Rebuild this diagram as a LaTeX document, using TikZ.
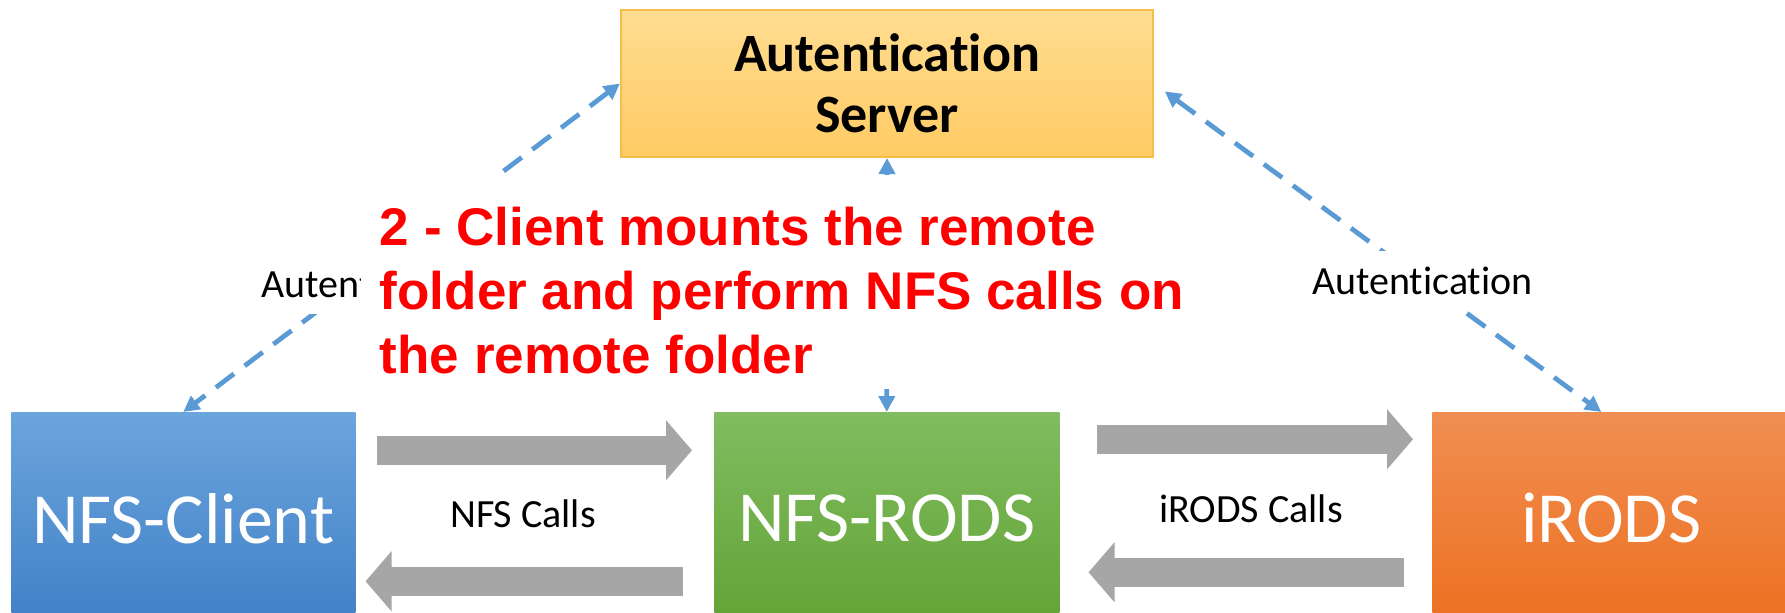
\documentclass[tikz,border=0pt]{standalone}
\usepackage{fontspec}
\setmainfont{Carlito}[Ligatures=NoCommon]
\newfontfamily\notefont{Liberation Sans}
\usetikzlibrary{arrows.meta,positioning}
\definecolor{authtop}{RGB}{255,221,145}
\definecolor{authbot}{RGB}{255,203,100}
\definecolor{authline}{RGB}{244,190,72}
\definecolor{clienttop}{RGB}{108,165,221}
\definecolor{clientbot}{RGB}{64,128,198}
\definecolor{rodstop}{RGB}{129,188,96}
\definecolor{rodsbot}{RGB}{98,163,54}
\definecolor{irodstop}{RGB}{240,142,82}
\definecolor{irodsbot}{RGB}{237,112,32}
\definecolor{callgray}{RGB}{166,166,166}
\definecolor{linkblue}{RGB}{91,155,213}
\definecolor{notered}{RGB}{255,0,0}
\tikzset{
  block/.style={anchor=north west, inner sep=0pt, text=white, font=\fontsize{54pt}{60pt}\selectfont},
  callarrow/.style={draw=callgray, line width=21.75pt, -{Triangle[length=19.5pt,width=44pt]}},
  callstext/.style={inner sep=0pt, font=\fontsize{30pt}{36pt}\selectfont},
  authlink/.style={draw=linkblue, line width=3.6pt, dash pattern=on 17pt off 10pt,
    {Triangle[length=12pt,width=12pt]}-{Triangle[length=12pt,width=12pt]}},
  authlabel/.style={fill=white, inner xsep=4pt, inner ysep=12pt, font=\fontsize{30pt}{36pt}\selectfont}
}
\begin{document}
\begin{tikzpicture}[x=0.75pt,y=0.75pt,yscale=-1,xscale=1]
\useasboundingbox (0,0) rectangle (1785,612);

%Flowchart: Process [auth server]
\node (auth) [anchor=north west, minimum width=399pt, minimum height=110.25pt, draw=authline, line width=1.5pt, top color=authtop, bottom color=authbot, inner sep=0pt, align=center, font=\bfseries\fontsize{40.5pt}{45.75pt}\selectfont] at (620,9) {Autentication\\Server};
%Flowchart: Process [bottom row]
\node (client) [block, minimum width=258pt, minimum height=159pt, top color=clienttop, bottom color=clientbot] at (11,412) {NFS-Client};
\node (rods) [block, minimum width=258.75pt, minimum height=159pt, top color=rodstop, bottom color=rodsbot] at (714,412) {NFS-RODS};
\node (irods) [block, minimum width=268.5pt, minimum height=159pt, top color=irodstop, bottom color=irodsbot] at (1432,412) {iRODS};

%Block Arrows
\draw [callarrow] ([xshift=15.75pt,yshift=-51pt]client.east) -- ([xshift=-16.5pt,yshift=-51pt]rods.west);
\draw [callarrow] ([xshift=-23.25pt,yshift=47.25pt]rods.west) -- ([xshift=7.5pt,yshift=47.25pt]client.east);
\draw [callarrow] ([xshift=27.75pt,yshift=-59.25pt]rods.east) -- ([xshift=-14.25pt,yshift=-59.25pt]irods.west);
\draw [callarrow] ([xshift=-21pt,yshift=40.5pt]irods.west) -- ([xshift=21.75pt,yshift=40.5pt]rods.east);

% Text Node
\node (nfscalls) [callstext] at (523,514) {NFS Calls};
% Text Node
\node (irodscalls) [callstext] at (1251,509) {iRODS Calls};

%Dashed Lines
\draw [authlink] (auth.west) -- node [authlabel, pos=0.61, xshift=13.5pt] (lefttag) {Autentication} (client.north);
\draw [authlink, shorten <=10pt] (auth.east) -- node [authlabel, pos=0.6] (righttag) {Autentication} ([xshift=-7.5pt]irods.north);
\draw [authlink] (auth.south) -- (rods.north);

% Text Node [note]
\node (note) [anchor=north west, fill=white, inner xsep=14pt, inner ysep=0pt, align=left, text=notered, font=\notefont\bfseries\fontsize{39.75pt}{48pt}\selectfont] at (361,175) {\rule{0pt}{52.5pt}2 - Client mounts the remote\\folder and perform NFS calls on\\the remote folder\rule[-5.25pt]{0pt}{5.25pt}};

\end{tikzpicture}
\end{document}
